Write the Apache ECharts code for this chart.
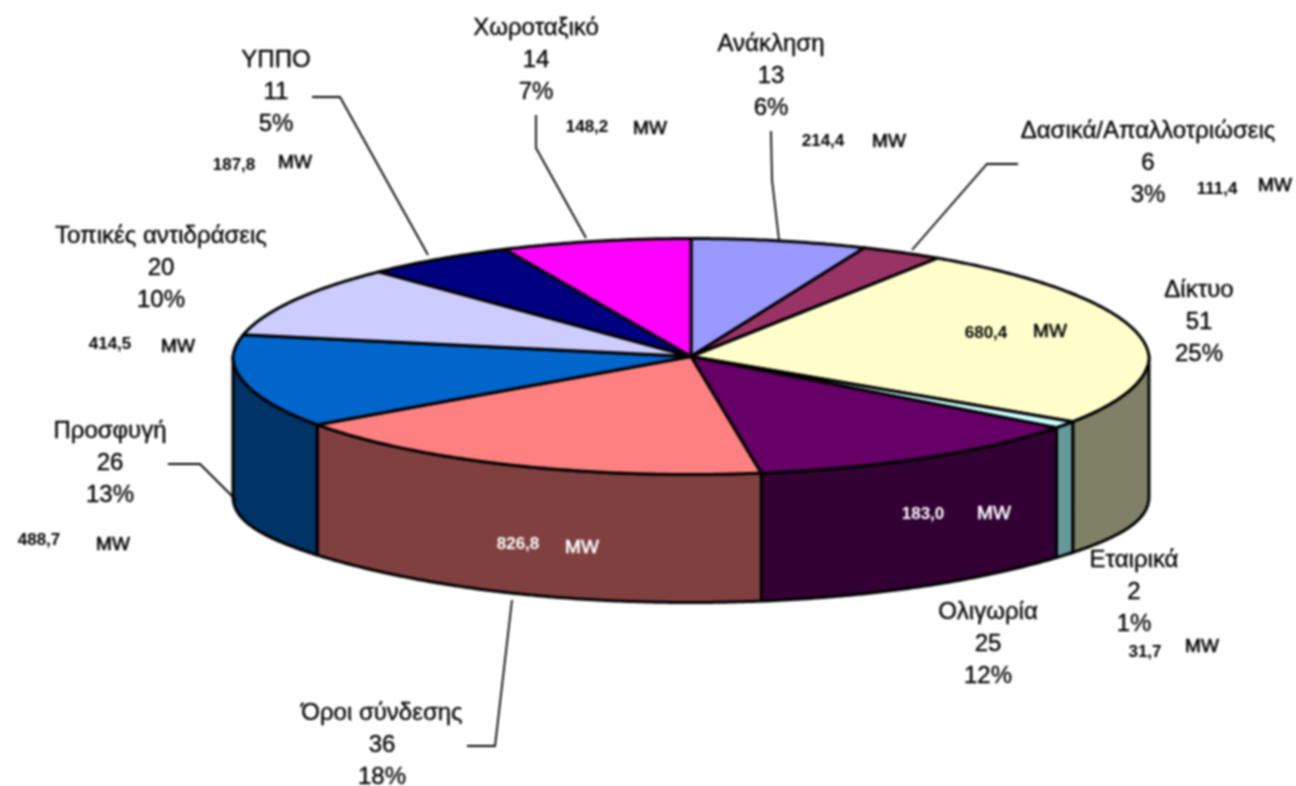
<!DOCTYPE html>
<html><head><meta charset="utf-8">
<style>html,body{margin:0;background:#fff}#c{width:1296px;height:786px;filter:blur(0.8px)}</style>
<script src="https://cdn.jsdelivr.net/npm/echarts@6/dist/echarts.min.js"></script>
</head><body><div id="c"></div>
<script>
const categories=['Ανάκληση','Δασικά/Απαλλοτριώσεις','Δίκτυο','Εταιρικά','Ολιγωρία','Όροι σύνδεσης','Προσφυγή','Τοπικές αντιδράσεις','ΥΠΠΟ','Χωροταξικό'];
const counts=[13,6,51,2,25,36,26,20,11,14];
const percents=['6%','3%','25%','1%','12%','18%','13%','10%','5%','7%'];
const mwValues=['214,4','111,4','680,4','31,7','183,0','826,8','488,7','414,5','187,8','148,2'];
const topColors=['#9999FF','#993366','#FFFFCC','#CCFFFF','#660066','#FF8080','#0066CC','#CCCCFF','#000080','#FF00FF'];
const sideColors=['#4d4d80','#4d1a33','#808066','#669999','#330033','#804040','#003366','#666680','#000040','#800080'];

// layout
const CX=691,CY=356.5,RX=458,RY=118,DEPTH=128,PERSP=0.03,EDGE=12;
const labelPos=[[771,44],[1148,131],[1199,290],[1134,560],[988,612],[382,713],[110,431],[161,236],[276,60],[536,28]];
const mwPos=[[823,141,889,142],[1217,189,1275,186],[986,333,1050,332],[1145,652,1202,647],[923,514,994,514],[518,544,582,548],[39,540,113,545],[110,344,178,347],[234,165,295,163],[587,127,650,129]];
const mwWhite=[4,5];
const leaders=[[[771,131],[772,180],[779,240]],[[1018,164],[987,164],[912,250]],null,null,null,[[467,746],[495,746],[512,600]],[[168,464],[200,464],[236,500]],null,[[312,97],[340,97],[428,255]],[[536,115],[536,148],[586,238]]];
const FONT='"Liberation Sans",Arial,sans-serif';

const total=counts.reduce((a,b)=>a+b,0);
let acc=0;
const rows=counts.map((v,i)=>{const r=[i,acc,acc+v];acc+=v;return r;});
const ang=v=>v/total*2*Math.PI;
function pt(t,lower){
  const s=Math.sin(t),c=Math.cos(t);
  const x=CX+RX*s*(1-PERSP*Math.max(c,0));
  const y=CY-RY*c+(lower?DEPTH+EDGE*Math.pow(s,8):0);
  return [x,y];
}
function arc(a,b,lower){const n=Math.max(2,Math.ceil((b-a)/0.01)),o=[];for(let k=0;k<=n;k++)o.push(pt(a+(b-a)*k/n,lower));return o;}

function renderSide(p,api){
  const i=api.value(0);let a=ang(api.value(1)),b=ang(api.value(2));
  a=Math.max(a,Math.PI/2);b=Math.min(b,Math.PI*1.5);
  if(b<=a) return {type:'group',children:[]};
  const pts=arc(a,b,false).concat(arc(a,b,true).reverse());
  return {type:'polygon',shape:{points:pts},style:{fill:sideColors[i],stroke:'#000',lineWidth:3,lineJoin:'round'}};
}
function renderTop(p,api){
  const i=api.value(0),a=ang(api.value(1)),b=ang(api.value(2));
  const pts=[[CX,CY]].concat(arc(a,b,false));
  return {type:'polygon',shape:{points:pts},style:{fill:topColors[i],stroke:'#000',lineWidth:3,lineJoin:'round'}};
}
function renderLabel(p,api){
  const i=api.value(0),lp=labelPos[i],mp=mwPos[i],c=[];
  const big=(t,x,y)=>({type:'text',style:{text:t,x,y,fill:'#000',stroke:'#000',lineWidth:0.35,font:'24px '+FONT,align:'center',verticalAlign:'middle'}});
  c.push(big(categories[i],lp[0],lp[1]),big(String(counts[i]),lp[0],lp[1]+32),big(percents[i],lp[0],lp[1]+64));
  const col=mwWhite.includes(i)?'#fff':'#000';
  c.push({type:'text',style:{text:mwValues[i],x:mp[0],y:mp[1],fill:col,font:'bold 17px '+FONT,align:'center',verticalAlign:'middle'}});
  c.push({type:'text',style:{text:'MW',x:mp[2],y:mp[3],fill:col,stroke:col,lineWidth:0.6,font:'19px '+FONT,align:'center',verticalAlign:'middle'}});
  if(leaders[i]) c.push({type:'polyline',shape:{points:leaders[i]},style:{fill:'none',stroke:'#000',lineWidth:1.8}});
  return {type:'group',children:c};
}
const chart=echarts.init(document.getElementById('c'),null,{renderer:'canvas'});
chart.setOption({animation:false,backgroundColor:'#fff',series:[
 {type:'custom',coordinateSystem:'none',data:rows,renderItem:renderSide,z:1,silent:true},
 {type:'custom',coordinateSystem:'none',data:rows,renderItem:renderTop,z:2,silent:true},
 {type:'custom',coordinateSystem:'none',data:rows,renderItem:renderLabel,z:3,silent:true}
]});
</script></body></html>
